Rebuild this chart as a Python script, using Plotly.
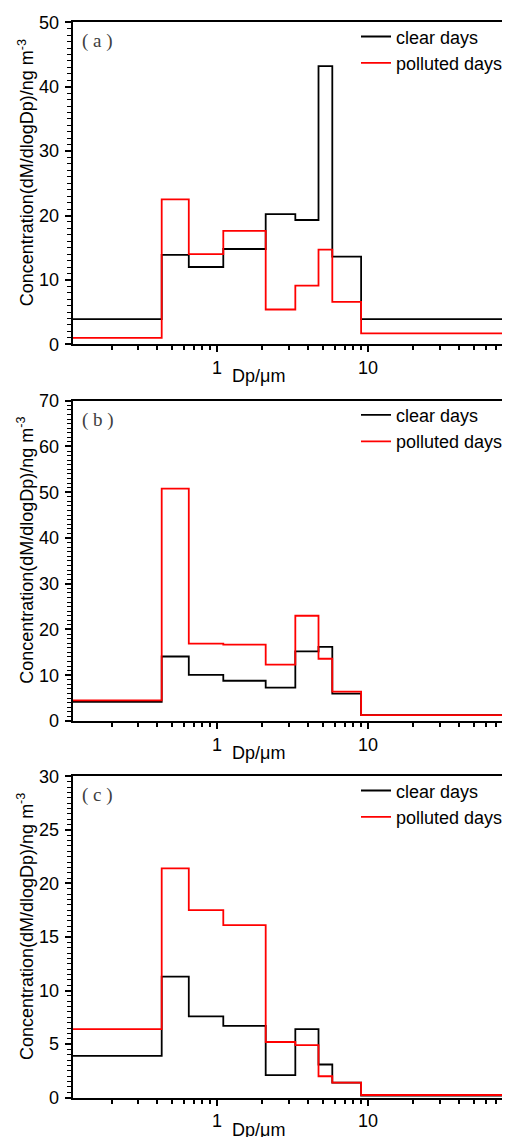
import plotly.graph_objects as go

# Andersen impactor cut sizes (um), first/last edge only close the outer bins
edges = [0.11, 0.43, 0.65, 1.1, 2.1, 3.3, 4.7, 5.8, 9.0, 100]

clear_a = [3.9, 13.9, 12.0, 14.8, 20.2, 19.3, 43.2, 13.6, 3.9]
polluted_a = [1.0, 22.5, 14.0, 17.6, 5.4, 9.1, 14.7, 6.6, 1.7]
clear_b = [4.2, 14.1, 10.1, 8.8, 7.3, 15.2, 16.2, 6.0, 1.3]
polluted_b = [4.5, 50.8, 16.9, 16.7, 12.3, 23.0, 13.6, 6.4, 1.3]
clear_c = [3.9, 11.3, 7.6, 6.7, 2.1, 6.4, 3.1, 1.4, 0.2]
polluted_c = [6.4, 21.4, 17.5, 16.1, 5.2, 4.9, 2.0, 1.4, 0.25]

panel_labels = ["( a )", "( b )", "( c )"]
y_max = [50, 70, 30]
y_step = [10, 10, 5]

# page body has an 8px margin, so the figure is laid out 8px in from the window
OFF = 8
W, H = 510 - OFF, 1137 - OFF
# pixel rows of each plot area in window coords (top, bottom)
rows = [(22.3, 344.3), (400.7, 721.0), (776.3, 1097.7)]
left_px = 72.7 - OFF

SANS = "Liberation Sans, Arial, sans-serif"

fig = go.Figure()

series = [(clear_a, polluted_a), (clear_b, polluted_b), (clear_c, polluted_c)]
minor_x = [m * d for d in (0.1, 1, 10) for m in range(2, 10)]

for i, (clear, polluted) in enumerate(series):
    n = "" if i == 0 else str(i + 1)
    leg = "legend" + n
    fig.add_trace(go.Scatter(x=edges, y=clear + [clear[-1]], mode="lines",
                             line=dict(color="black", width=1.8, shape="hv"),
                             name="clear days", xaxis="x" + n, yaxis="y" + n, legend=leg))
    fig.add_trace(go.Scatter(x=edges, y=polluted + [polluted[-1]], mode="lines",
                             line=dict(color="#ff0000", width=1.8, shape="hv"),
                             name="polluted days", xaxis="x" + n, yaxis="y" + n, legend=leg))

    top, bot = rows[i][0] - OFF, rows[i][1] - OFF
    dom = [1 - bot / H, 1 - top / H]
    fig.layout["xaxis" + n] = dict(
        type="log", range=[-0.956, 1.9404], domain=[left_px / W, 1],
        anchor="y" + n, showgrid=False, zeroline=False,
        showline=True, linecolor="black", linewidth=2, mirror=True,
        ticks="outside", ticklen=6, tickwidth=1.5, tickcolor="black",
        tickvals=[1, 10], ticktext=["1", "10"],
        tickfont=dict(family=SANS, size=18, color="black"),
        minor=dict(tickvals=minor_x, ticks="outside", ticklen=4, tickwidth=1.5,
                   tickcolor="black", showgrid=False),
        automargin=False,
    )
    fig.layout["yaxis" + n] = dict(
        range=[0, y_max[i]], domain=dom, anchor="x" + n,
        showgrid=False, zeroline=False,
        showline=True, linecolor="black", linewidth=2, mirror=False,
        ticks="outside", ticklen=6, tickwidth=1.5, tickcolor="black",
        dtick=y_step[i], tick0=0, ticklabelstandoff=2,
        tickfont=dict(family=SANS, size=18, color="black"),
        minor=dict(dtick=y_step[i] / 10, ticks="outside", ticklen=3.5,
                   tickwidth=1, tickcolor="black", showgrid=False),
        automargin=False,
    )
    fig.layout[leg] = dict(
        x=348 / W, y=1 - (top - 4) / H, xanchor="left", yanchor="top",
        bgcolor="rgba(0,0,0,0)", font=dict(family=SANS, size=18, color="black"),
        tracegroupgap=0,
    )

    # axis titles and panel label
    fig.add_annotation(text="Concentration(dM/dlogDp)/ng m<sup>-3</sup>",
                       textangle=-90, x=18 / W, y=1 - (top + bot - 20) / 2 / H,
                       xanchor="center", yanchor="middle",
                       xref="paper", yref="paper", showarrow=False,
                       font=dict(family=SANS, size=18, color="black"))
    fig.add_annotation(text="Dp/μm", x=250 / W, y=1 - (bot + 32) / H,
                       xanchor="center", yanchor="middle",
                       xref="paper", yref="paper", showarrow=False,
                       font=dict(family=SANS, size=18, color="black"))
    fig.add_annotation(text=panel_labels[i], x=72 / W, y=1 - (top + 19) / H,
                       xanchor="left", yanchor="middle",
                       xref="paper", yref="paper", showarrow=False,
                       font=dict(family="Liberation Serif, serif",
                                 size=19, color="#404040"))

fig.update_layout(width=W, height=H, margin=dict(l=0, r=0, t=0, b=0),
                  plot_bgcolor="white", paper_bgcolor="white", showlegend=True)

fig.write_html("out.html")
